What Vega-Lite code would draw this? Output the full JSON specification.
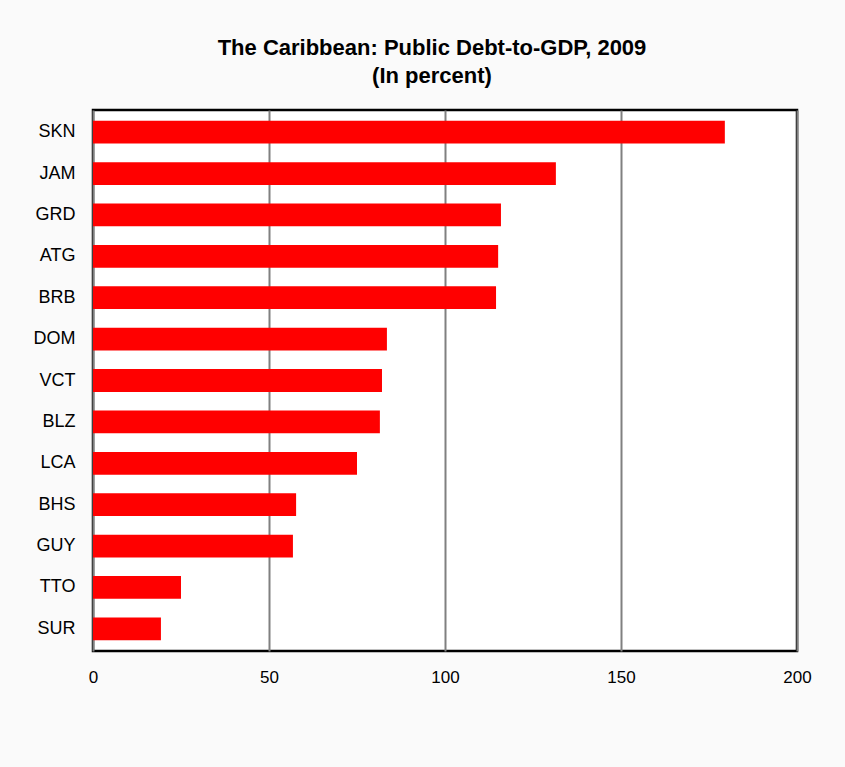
{
  "$schema": "https://vega.github.io/schema/vega-lite/v6.json",
  "width": 704,
  "height": 541,
  "autosize": {"type": "none"},
  "padding": {"left": 93, "top": 110, "right": 48, "bottom": 116},
  "background": "#fafafa",
  "title": {
    "text": ["The Caribbean: Public Debt-to-GDP, 2009", "(In percent)"],
    "font": "Liberation Sans",
    "fontSize": 22,
    "fontWeight": "bold",
    "color": "#000000",
    "anchor": "middle",
    "lineHeight": 28,
    "offset": 22,
    "dx": -13
  },
  "data": {
    "values": [
      {"country": "SKN", "debt": 179.5},
      {"country": "JAM", "debt": 131.5},
      {"country": "GRD", "debt": 115.9},
      {"country": "ATG", "debt": 115.1},
      {"country": "BRB", "debt": 114.5},
      {"country": "DOM", "debt": 83.5},
      {"country": "VCT", "debt": 82.1},
      {"country": "BLZ", "debt": 81.5},
      {"country": "LCA", "debt": 75.0},
      {"country": "BHS", "debt": 57.7},
      {"country": "GUY", "debt": 56.8},
      {"country": "TTO", "debt": 25.0},
      {"country": "SUR", "debt": 19.3}
    ]
  },
  "mark": {"type": "bar", "color": "#ff0000"},
  "encoding": {
    "y": {
      "field": "country",
      "type": "nominal",
      "sort": null,
      "scale": {"paddingInner": 0.45, "paddingOuter": 0.26},
      "axis": {
        "title": null,
        "domain": false,
        "ticks": false,
        "labelFont": "Liberation Sans",
        "labelFontSize": 18,
        "labelColor": "#000000",
        "labelPadding": 18
      }
    },
    "x": {
      "field": "debt",
      "type": "quantitative",
      "scale": {"domain": [0, 200], "nice": false},
      "axis": {
        "title": null,
        "values": [0, 50, 100, 150, 200],
        "domain": false,
        "ticks": false,
        "grid": true,
        "gridColor": "#808080",
        "gridWidth": 2,
        "labelFont": "Liberation Sans",
        "labelFontSize": 17,
        "labelColor": "#000000",
        "labelPadding": 18,
        "labelFlush": false
      }
    }
  },
  "config": {
    "view": {"stroke": "#000000", "strokeWidth": 2.5, "fill": "#ffffff"}
  }
}
